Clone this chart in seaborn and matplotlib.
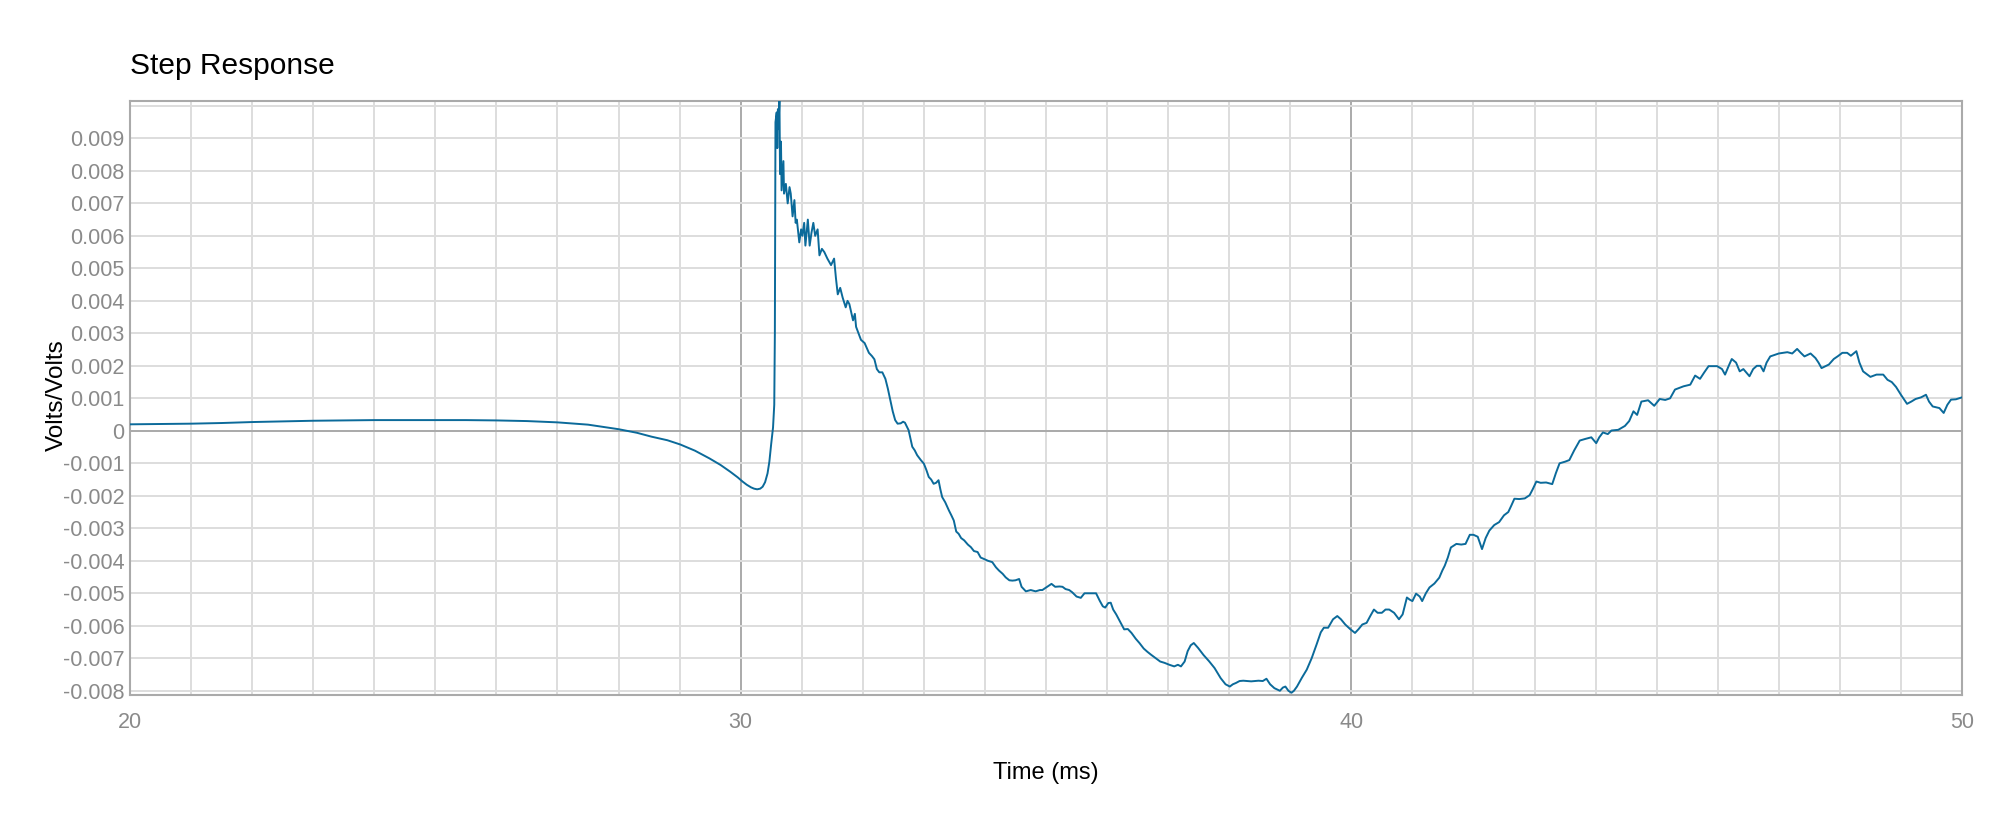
# Step response plot - Volts/Volts against time in ms
import numpy as np
import pandas as pd
import matplotlib
matplotlib.use("Agg")
import matplotlib.pyplot as plt
import seaborn as sns
from matplotlib.ticker import MultipleLocator, FixedLocator

# ###########################################################
# Values.

# Slow drift before the step.
pre_t = [20.0, 20.5, 21.0, 21.5, 22.0, 22.5, 23.0, 23.5, 24.0, 24.5, 25.0, 25.5,
         26.0, 26.5, 27.0, 27.5, 28.0, 28.3, 28.54, 28.8, 29.01, 29.25, 29.49,
         29.67, 29.83, 29.95, 30.03, 30.1, 30.17, 30.22, 30.27, 30.32, 30.36,
         30.4, 30.44, 30.47, 30.5, 30.53, 30.55]
pre_v = [0.0002, 0.00021, 0.00022, 0.00024, 0.00027, 0.00029, 0.00031, 0.00032,
         0.00033, 0.00033, 0.00033, 0.00033, 0.00032, 0.0003, 0.00026, 0.00019,
         0.00005, -0.00006, -0.00018, -0.00029, -0.00042, -0.00061, -0.00085,
         -0.00105, -0.00126, -0.00143, -0.00156, -0.00166, -0.00174, -0.00178,
         -0.0018, -0.00178, -0.00172, -0.00158, -0.00131, -0.00095, -0.0004,
         0.0001, 0.0008]

# The spike and its noisy decay.
spike_t = [30.56, 30.57, 30.59, 30.6, 30.61, 30.62, 30.635, 30.645, 30.66, 30.67,
           30.7, 30.71, 30.74, 30.77, 30.8, 30.82, 30.85, 30.88, 30.9, 30.92,
           30.96, 30.99, 31.01, 31.04, 31.06, 31.1, 31.13, 31.16, 31.19, 31.22,
           31.26, 31.29, 31.33, 31.37, 31.42, 31.48, 31.53, 31.56, 31.59, 31.63,
           31.67, 31.72, 31.75, 31.78, 31.84, 31.87, 31.89, 31.93, 31.97, 32.03,
           32.1, 32.15, 32.19, 32.23, 32.27, 32.32, 32.37, 32.41, 32.45, 32.49,
           32.53, 32.57, 32.62, 32.66, 32.69, 32.75, 32.81, 32.85, 32.89, 32.95]
spike_v = [0.003, 0.0095, 0.0098, 0.0087, 0.0099, 0.0093, 0.0102, 0.0079, 0.0089,
           0.0074, 0.0083, 0.0073, 0.0076, 0.007, 0.0075, 0.0073, 0.0066, 0.0071,
           0.0064, 0.0065, 0.0058, 0.0062, 0.006, 0.0064, 0.0057, 0.0065, 0.0057,
           0.0061, 0.0064, 0.006, 0.0062, 0.0054, 0.0056, 0.0055, 0.0053, 0.0051,
           0.0053, 0.0047, 0.0042, 0.0044, 0.0041, 0.0038, 0.004, 0.0039, 0.0034,
           0.0036, 0.0032, 0.003, 0.0028, 0.0027, 0.0024, 0.0023, 0.0022, 0.0019,
           0.0018, 0.0018, 0.0016, 0.0013, 0.00095, 0.0006, 0.00033, 0.00022,
           0.00023, 0.00028, 0.00025, 0.00002, -0.00049, -0.0006, -0.00075, -0.0009]

# Undershoot down to the trough near 39 ms.
dip_t = [33.0, 33.04, 33.08, 33.12, 33.16, 33.2, 33.24, 33.27, 33.3, 33.35, 33.41,
         33.45, 33.49, 33.53, 33.57, 33.61, 33.66, 33.72, 33.77, 33.82, 33.88,
         33.93, 33.98, 34.05, 34.12, 34.18, 34.23, 34.29, 34.34, 34.4, 34.45,
         34.5, 34.56, 34.6, 34.67, 34.75, 34.83, 34.9, 34.94, 35.02, 35.09, 35.15,
         35.22, 35.27, 35.32, 35.38, 35.43, 35.5, 35.57, 35.63, 35.71, 35.78,
         35.82, 35.88, 35.93, 35.97, 36.02, 36.06, 36.1, 36.15, 36.22, 36.28,
         36.34, 36.4, 36.47, 36.53, 36.6, 36.66, 36.72, 36.8, 36.87, 36.94, 37.02,
         37.1, 37.16, 37.21, 37.27, 37.32, 37.37, 37.42, 37.49, 37.58, 37.67,
         37.76, 37.86, 37.94, 38.01, 38.06, 38.11, 38.17, 38.23, 38.3, 38.36,
         38.42, 38.48, 38.55, 38.61, 38.67, 38.74, 38.83, 38.88, 38.92, 38.97,
         39.02, 39.06, 39.11]
dip_v = [-0.00101, -0.0012, -0.00142, -0.0015, -0.00163, -0.0016, -0.00152,
         -0.0018, -0.00204, -0.0022, -0.00245, -0.0026, -0.00276, -0.0031,
         -0.00317, -0.0033, -0.00337, -0.0035, -0.00358, -0.0037, -0.00373,
         -0.0039, -0.00394, -0.004, -0.00404, -0.0042, -0.0043, -0.0044, -0.00451,
         -0.0046, -0.00461, -0.0046, -0.00456, -0.0048, -0.00494, -0.0049,
         -0.00494, -0.0049, -0.0049, -0.0048, -0.00471, -0.0048, -0.00479,
         -0.0048, -0.00487, -0.0049, -0.00497, -0.0051, -0.00514, -0.005, -0.005,
         -0.005, -0.005, -0.00523, -0.0054, -0.00544, -0.0053, -0.00529, -0.0055,
         -0.00565, -0.0059, -0.00611, -0.0061, -0.00622, -0.0064, -0.00653,
         -0.0067, -0.0068, -0.00689, -0.007, -0.0071, -0.00714, -0.0072, -0.00725,
         -0.0072, -0.00725, -0.0071, -0.00678, -0.0066, -0.00653, -0.00668,
         -0.0069, -0.00709, -0.0073, -0.00761, -0.0078, -0.00787, -0.0078,
         -0.00776, -0.0077, -0.00769, -0.0077, -0.00771, -0.0077, -0.00769,
         -0.0077, -0.00763, -0.0078, -0.00792, -0.008, -0.0079, -0.00787, -0.008,
         -0.00806, -0.008, -0.00787]

# Recovery up to 50 ms.
rec_t = [39.19, 39.27, 39.35, 39.43, 39.5, 39.55, 39.62, 39.7, 39.77, 39.83, 39.9,
         39.98, 40.06, 40.12, 40.18, 40.25, 40.31, 40.37, 40.43, 40.5, 40.56,
         40.62, 40.7, 40.78, 40.84, 40.91, 40.96, 41.0, 41.06, 41.12, 41.16, 41.22,
         41.28, 41.36, 41.44, 41.49, 41.53, 41.58, 41.63, 41.72, 41.8, 41.87,
         41.94, 42.0, 42.07, 42.14, 42.2, 42.26, 42.34, 42.42, 42.5, 42.57, 42.62,
         42.67, 42.75, 42.84, 42.92, 42.97, 43.03, 43.1, 43.19, 43.29, 43.35,
         43.41, 43.5, 43.57, 43.65, 43.74, 43.83, 43.93, 44.01, 44.06, 44.12,
         44.2, 44.26, 44.37, 44.48, 44.55, 44.62, 44.68, 44.75, 44.86, 44.96,
         45.05, 45.14, 45.22, 45.3, 45.44, 45.55, 45.63, 45.71, 45.78, 45.85,
         45.99, 46.07, 46.12, 46.18, 46.23, 46.3, 46.36, 46.42, 46.52, 46.58,
         46.64, 46.7, 46.75, 46.8, 46.86, 47.0, 47.14, 47.22, 47.3, 47.36, 47.42,
         47.52, 47.6, 47.65, 47.7, 47.82, 47.9, 47.97, 48.04, 48.12, 48.18, 48.27,
         48.32, 48.38, 48.5, 48.6, 48.71, 48.78, 48.85, 48.92, 49.0, 49.1, 49.17,
         49.24, 49.33, 49.41, 49.46, 49.52, 49.63, 49.7, 49.76, 49.82, 49.9, 50.0]
rec_v = [-0.0076, -0.00735, -0.007, -0.00658, -0.0062, -0.00606, -0.00606,
         -0.0058, -0.0057, -0.0058, -0.00596, -0.0061, -0.00622, -0.0061,
         -0.00596, -0.00591, -0.0057, -0.0055, -0.0056, -0.0056, -0.0055, -0.0055,
         -0.0056, -0.0058, -0.00565, -0.00513, -0.0052, -0.00524, -0.00501,
         -0.0051, -0.00524, -0.005, -0.00482, -0.0047, -0.00452, -0.0043,
         -0.00415, -0.0039, -0.00359, -0.00348, -0.0035, -0.00348, -0.0032,
         -0.0032, -0.00326, -0.00364, -0.0033, -0.00307, -0.0029, -0.00281,
         -0.0026, -0.0025, -0.0023, -0.00209, -0.0021, -0.00208, -0.00198,
         -0.0018, -0.00156, -0.0016, -0.00159, -0.00164, -0.0013, -0.001,
         -0.00095, -0.0009, -0.0006, -0.0003, -0.00025, -0.0002, -0.00038,
         -0.0002, -0.00005, -0.0001, 0.00001, 0.00003, 0.00015, 0.0003, 0.0006,
         0.00049, 0.0009, 0.00094, 0.00077, 0.00098, 0.00095, 0.001, 0.00127,
         0.00137, 0.00142, 0.0017, 0.0016, 0.0018, 0.00199, 0.00199, 0.0019,
         0.00173, 0.002, 0.00221, 0.0021, 0.00183, 0.0019, 0.00168, 0.0019, 0.002,
         0.002, 0.00183, 0.0021, 0.00229, 0.00238, 0.00242, 0.00238, 0.00252,
         0.0024, 0.00229, 0.00238, 0.00224, 0.0021, 0.00193, 0.00204, 0.00221,
         0.0023, 0.0024, 0.0024, 0.00231, 0.00245, 0.0021, 0.00183, 0.00166,
         0.00173, 0.00173, 0.00157, 0.0015, 0.00135, 0.00111, 0.00083, 0.0009,
         0.00098, 0.00103, 0.00111, 0.0009, 0.00075, 0.0007, 0.00055, 0.0008,
         0.00096, 0.00097, 0.00103]

y_ticks = [-0.008, -0.007, -0.006, -0.005, -0.004, -0.003, -0.002, -0.001, 0.0,
           0.001, 0.002, 0.003, 0.004, 0.005, 0.006, 0.007, 0.008, 0.009]
y_labels = ['-0.008', '-0.007', '-0.006', '-0.005', '-0.004', '-0.003', '-0.002',
            '-0.001', '0', '0.001', '0.002', '0.003', '0.004', '0.005', '0.006',
            '0.007', '0.008', '0.009']
x_ticks = [20, 30, 40, 50]

data = pd.DataFrame({'Time': pre_t + spike_t + dip_t + rec_t,
                     'Response': pre_v + spike_v + dip_v + rec_v})

# ###########################################################
sns.set_theme(style="white")
plt.rcParams['font.family'] = ['Liberation Sans', 'DejaVu Sans']

fig = plt.figure(figsize=(20.02, 8.34), dpi=100)
ax = fig.add_axes([130 / 2002, 1 - 695 / 834, 1832 / 2002, 594 / 834])

sns.lineplot(data=data, x='Time', y='Response', ax=ax, color='#0b6a9a',
             linewidth=1.4, estimator=None, sort=False, zorder=3)

ax.set_xlim(20, 50)
ax.set_ylim(-0.00813, 0.01015)

# Grid: light lines every ms / every 0.001, darker at 30, 40 and zero.
ax.set_xticks(x_ticks)
ax.xaxis.set_minor_locator(MultipleLocator(1))
ax.set_yticks(y_ticks)
ax.set_yticklabels(y_labels)
ax.yaxis.set_minor_locator(FixedLocator([0.010]))
ax.set_axisbelow(True)
ax.grid(which='minor', axis='x', color='#dddddd', linewidth=1.4)
ax.grid(which='major', axis='x', color='#aaaaaa', linewidth=1.4)
ax.grid(which='both', axis='y', color='#dddddd', linewidth=1.4)
ax.axhline(0, color='#aaaaaa', linewidth=1.4, zorder=2)

for side in ax.spines.values():
    side.set_color('#aaaaaa')
    side.set_linewidth(1.5)

ax.tick_params(axis='both', which='both', length=0, labelsize=15.5,
               labelcolor='#8a8a8a')
ax.tick_params(axis='x', pad=12)
ax.tick_params(axis='y', pad=4)

ax.set_xlabel('Time (ms)', fontsize=17, color='black', labelpad=21)
ax.set_ylabel('Volts/Volts', fontsize=17.5, color='black')
# y label sits right against the tick labels
ax.yaxis.set_label_coords(-0.034, 0.505)

fig.text(130 / 2002, 1 - 74 / 834, 'Step Response', fontsize=21.5,
         ha='left', va='baseline', color='black')

fig.savefig('out.png', dpi=100)
